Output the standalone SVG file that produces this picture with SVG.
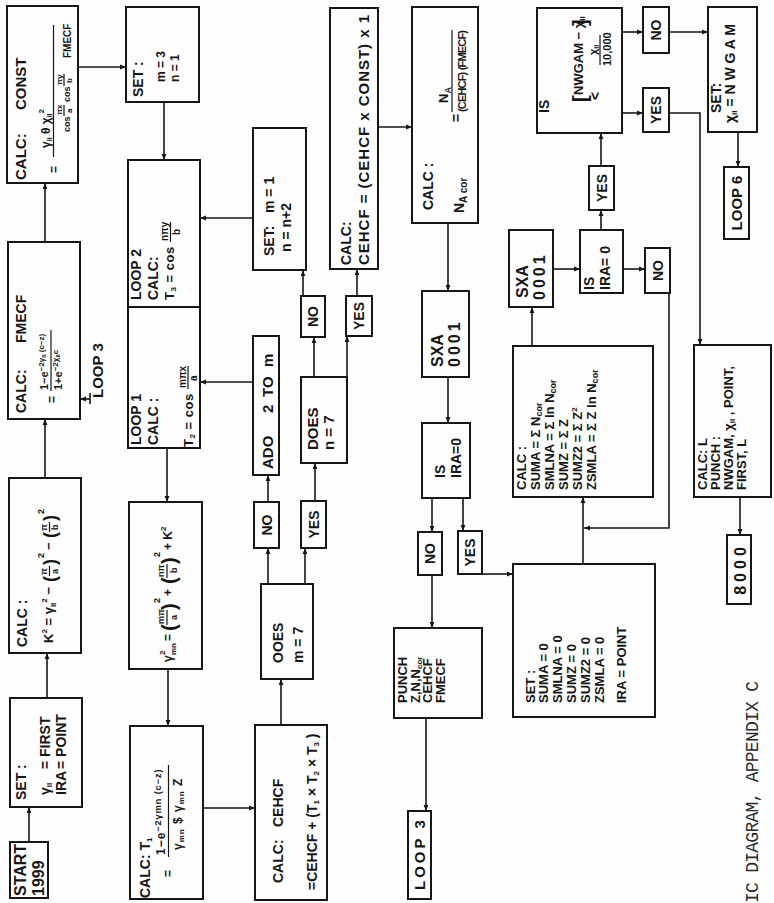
<svg xmlns="http://www.w3.org/2000/svg" width="774" height="903" viewBox="0 0 774 903">
<style>
.bx{fill:none;stroke:#161616;stroke-width:2}
.ln{fill:none;stroke:#161616;stroke-width:1.6}
.ar{marker-end:url(#ah)}
.fb{fill:none;stroke:#161616;stroke-width:1.2}
.big{font-family:"Liberation Sans",Arial,sans-serif;font-weight:bold;font-size:16px;fill:#161616}
.t{font-family:"Liberation Sans",Arial,sans-serif;font-weight:bold;font-size:14px;fill:#161616}
.u{font-family:"Liberation Sans",Arial,sans-serif;font-weight:bold;font-size:13px;fill:#161616}
.m{font-family:"Liberation Sans",Arial,sans-serif;font-weight:bold;font-size:12px;fill:#161616}
.n{font-family:"Liberation Sans",Arial,sans-serif;font-weight:bold;font-size:9px;fill:#161616}
.c{text-anchor:middle}
.cap{font-family:"Liberation Mono","Courier New",monospace;font-size:18px;fill:#2a2a2a}
</style>
<defs>
<marker id="ah" markerWidth="7" markerHeight="6" refX="6" refY="3" orient="auto" markerUnits="userSpaceOnUse">
<path d="M0,0.6 L6,3 L0,5.4 z" fill="#161616"/>
</marker>
</defs>
<rect width="774" height="903" fill="#fdfdfd"/>
<!-- the sheet is drawn in its own upright frame and turned a quarter turn -->
<g transform="translate(0,903) rotate(-90)">

<g id="connectors">
<path class="ln ar" d="M61,29H96"/>
<path class="ln ar" d="M205,47H250"/>
<path class="ln ar" d="M425,45H484"/>
<path class="ln ar" d="M661,45H720"/>
<path class="ln ar" d="M836,78V126"/>
<path class="ln ar" d="M801,164H743"/>
<path class="ln ar" d="M685,253V200"/>
<path class="ln ar" d="M521,253V200"/>
<path class="ln ar" d="M455,167H401"/>
<path class="ln ar" d="M234,168H177"/>
<path class="ln ar" d="M95,203V255"/>
<path class="ln ar" d="M178,281H224"/>
<path class="ln ar" d="M319,268H355"/>
<path class="ln ar" d="M401,268H428"/>
<path class="ln ar" d="M319,305H355"/>
<path class="ln ar" d="M402,315H440"/>
<path class="ln ar" d="M526,314H566"/>
<path class="ln ar" d="M526,347H567"/>
<path class="ln ar" d="M607,303H633"/>
<path class="ln ar" d="M607,357H634"/>
<path class="ln ar" d="M776,378V412"/>
<path class="ln ar" d="M680,448H612"/>
<path class="ln ar" d="M526,448H480"/>
<path class="ln ar" d="M405,432H371"/>
<path class="ln ar" d="M405,463H372"/>
<path class="ln ar" d="M328,432H275"/>
<path class="ln ar" d="M185,426H92"/>
<path class="ln ar" d="M329,482V513"/>
<path class="ln ar" d="M339,583H406"/>
<path class="ln ar" d="M610,669H375V584"/>
<path class="ln ar" d="M557,532H596"/>
<path class="ln ar" d="M634,553V580"/>
<path class="ln ar" d="M634,623V645"/>
<path class="ln ar" d="M673,601H693"/>
<path class="ln ar" d="M737,601H770"/>
<path class="ln ar" d="M871,622V643"/>
<path class="ln ar" d="M871,669V708"/>
<path class="ln ar" d="M771,738H736"/>
<path class="ln ar" d="M790,622V643"/>
<path class="ln ar" d="M790,669V700H558"/>
<path class="ln ar" d="M406,740H368"/>
<path class="ln ar" d="M504,90V80"/>
<path class="ln" d="M499,90H510"/>
</g>

<g id="start">
<rect class="bx" x="5" y="10" width="56" height="38"/>
<text class="big" x="7" y="26">START</text>
<text class="big" x="7" y="44">1999</text>
</g>

<g id="set-first">
<rect class="bx" x="96" y="10" width="109" height="72"/>
<text class="t" x="103" y="26">SET :</text>
<text class="t" x="108" y="50">γ<tspan dy="2" style="font-size:8px">II</tspan></text>
<text class="t" x="134" y="50">= FIRST</text>
<text class="t" x="108" y="66">IRA</text>
<text class="t" x="134" y="66">= POINT</text>
</g>

<g id="calc-k">
<rect class="bx" x="250" y="9" width="175" height="72"/>
<text class="t" x="256" y="27">CALC :</text>
<text class="m" x="260" y="53" style="font-size:13px">K<tspan dy="-6" style="font-size:8px">2</tspan><tspan dy="6"> = γ</tspan><tspan dy="3" style="font-size:8px">II</tspan><tspan dy="-9" style="font-size:8px">2</tspan><tspan dy="6"> −</tspan></text>
<text class="t" x="321" y="56" style="font-size:18px">(</text>
<text class="n" x="328" y="47">π</text><path class="fb" d="M327,49.5H337"/><text class="n" x="329" y="58">a</text>
<text class="t" x="338" y="56" style="font-size:18px">)</text><text class="n" x="345" y="44">2</text>
<text class="m" x="353" y="53" style="font-size:13px">−</text>
<text class="t" x="365" y="56" style="font-size:18px">(</text>
<text class="n" x="372" y="47">π</text><path class="fb" d="M371,49.5H381"/><text class="n" x="373" y="58">b</text>
<text class="t" x="382" y="56" style="font-size:18px">)</text><text class="n" x="389" y="44">2</text>
</g>

<g id="calc-fmecf">
<rect class="bx" x="484" y="8" width="177" height="72"/>
<text class="t" x="490" y="26">CALC:</text>
<text class="t" x="560" y="26">FMECF</text>
<text class="m" x="500" y="56">=</text>
<text class="m" x="513" y="48" style="font-size:11px">1−e<tspan dy="-4" style="font-size:8px">−2γ</tspan><tspan dy="2" style="font-size:6px">II</tspan><tspan dy="-2" style="font-size:8px"> (c−z)</tspan></text>
<path class="fb" d="M512,51H573"/>
<text class="m" x="513" y="62" style="font-size:11px">1+e<tspan dy="-4" style="font-size:8px">−2χ</tspan><tspan dy="2" style="font-size:6px">II</tspan><tspan dy="-2" style="font-size:8px">c</tspan></text>
<text class="t" x="505" y="103" style="font-size:15px">LOOP 3</text>
</g>

<g id="calc-const">
<rect class="bx" x="720" y="7" width="177" height="71"/>
<text class="big" x="723" y="26" style="font-size:15px">CALC:</text>
<text class="big" x="793" y="26" style="font-size:15px">CONST</text>
<text class="m" x="730" y="58">=</text>
<text class="m" x="755" y="50">γ<tspan dy="2" style="font-size:7px">II</tspan><tspan dy="-2"> θ χ</tspan><tspan dy="2" style="font-size:7px">II</tspan><tspan dy="-8" style="font-size:8px">2</tspan></text>
<path class="fb" d="M746,53.5H878"/>
<text class="n" x="771" y="70">cos</text>
<text class="n" x="788" y="62" style="font-size:8px">πx</text><path class="fb" d="M787,64H798"/><text class="n" x="790" y="72" style="font-size:8px">a</text>
<text class="n" x="801" y="70">cos</text>
<text class="n" x="818" y="62" style="font-size:8px">πy</text><path class="fb" d="M817,64H829"/><text class="n" x="820" y="72" style="font-size:8px">b</text>
<text class="m" x="845" y="71" style="font-size:10px">FMECF</text>
</g>

<g id="set-m3">
<rect class="bx" x="801" y="126" width="95" height="73"/>
<text class="t" x="806" y="143">SET :</text>
<text class="m" x="821" y="165">m = 3</text>
<text class="m" x="821" y="179">n = 1</text>
</g>

<g id="loop2">
<rect class="bx" x="596" y="128" width="147" height="72"/>
<text class="t" x="603" y="141">LOOP 2</text>
<text class="t" x="603" y="158">CALC:</text>
<text class="m" x="603" y="174" style="font-size:13px;letter-spacing:0.5px">T<tspan dy="2" style="font-size:8px">3</tspan><tspan dy="-2"> = cos</tspan></text>
<text class="n" x="662" y="168" style="font-size:10px">nπy</text><path class="fb" d="M661,170.5H681"/><text class="n" x="668" y="180" style="font-size:10px">b</text>
</g>

<g id="loop1">
<rect class="bx" x="455" y="128" width="141" height="72"/>
<text class="t" x="458" y="141">LOOP 1</text>
<text class="t" x="458" y="158">CALC :</text>
<text class="m" x="456" y="193" style="font-size:13px;letter-spacing:0.5px">T<tspan dy="2" style="font-size:8px">2</tspan><tspan dy="-2"> = cos</tspan></text>
<text class="n" x="515" y="186" style="font-size:10px">mπx</text><path class="fb" d="M514,188H537"/><text class="n" x="522" y="197" style="font-size:10px">a</text>
</g>

<g id="gamma-mn">
<rect class="bx" x="234" y="129" width="167" height="73"/>
<text class="m" x="241" y="172">γ</text><text class="n" x="248" y="165" style="font-size:8px">2</text><text class="n" x="248" y="176" style="font-size:8px">mn</text>
<text class="m" x="262" y="172">=</text>
<text class="t" x="272" y="176" style="font-size:20px">(</text>
<text class="n" x="279" y="164">mπ</text><path class="fb" d="M278,167H293"/><text class="n" x="283" y="177">a</text>
<text class="t" x="293" y="176" style="font-size:20px">)</text><text class="n" x="300" y="160">2</text>
<text class="m" x="307" y="172">+</text>
<text class="t" x="319" y="176" style="font-size:20px">(</text>
<text class="n" x="326" y="164">nπ</text><path class="fb" d="M325,167H339"/><text class="n" x="330" y="177">b</text>
<text class="t" x="339" y="176" style="font-size:20px">)</text><text class="n" x="346" y="160">2</text>
<text class="m" x="353" y="172">+ K<tspan dy="-6" style="font-size:8px">2</tspan></text>
</g>

<g id="calc-t1">
<rect class="bx" x="4" y="130" width="173" height="73"/>
<text class="t" x="5" y="150">CALC: T<tspan dy="2" style="font-size:8px">1</tspan></text>
<text class="m" x="26" y="172">=</text>
<text class="m" x="48" y="165" style="letter-spacing:1px">1−e<tspan dy="-4" style="font-size:9px">−2γmn (c−z)</tspan></text>
<path class="fb" d="M46,168.5H138"/>
<text class="m" x="53" y="182" style="letter-spacing:1px">γ<tspan dy="2" style="font-size:8px">mn</tspan><tspan dy="-2"> $ γ</tspan><tspan dy="2" style="font-size:8px">mn</tspan><tspan dy="-2"> Z</tspan></text>
</g>

<g id="calc-cehcf">
<rect class="bx" x="3" y="255" width="175" height="72"/>
<text class="t" x="20" y="283">CALC:</text>
<text class="t" x="76" y="283">CEHCF</text>
<text class="t" x="13" y="317">=CEHCF + (T<tspan dy="2" style="font-size:8px">1</tspan><tspan dy="-2"> × T</tspan><tspan dy="2" style="font-size:8px">2</tspan><tspan dy="-2"> × T</tspan><tspan dy="2" style="font-size:8px">3</tspan><tspan dy="-2"> )</tspan></text>
</g>

<g id="does-m7">
<rect class="bx" x="224" y="261" width="95" height="52"/>
<text class="t" x="240" y="283">OOES</text>
<text class="t" x="240" y="303">m = 7</text>
</g>
<g id="no-m"><rect class="bx" x="355" y="254" width="46" height="25"/><text class="t c" x="378" y="272">NO</text></g>
<g id="yes-m"><rect class="bx" x="355" y="301" width="47" height="25"/><text class="t c" x="378.5" y="319">YES</text></g>

<g id="add2">
<rect class="bx" x="428" y="253" width="139" height="26"/>
<text class="t" x="434" y="273" style="font-size:15px">ADO</text><text class="t" x="490" y="273" style="font-size:15px">2</text><text class="t" x="506" y="273" style="font-size:15px">TO</text><text class="t" x="536" y="273" style="font-size:15px">m</text>
</g>

<g id="set-m1">
<rect class="bx" x="633" y="253" width="142" height="53"/>
<text class="t" x="647" y="274">SET:</text>
<text class="t" x="690" y="274">m = 1</text>
<text class="t" x="651" y="291">n = n+2</text>
</g>

<g id="does-n7">
<rect class="bx" x="440" y="301" width="86" height="46"/>
<text class="t" x="453" y="318" style="font-size:15px">DOES</text>
<text class="t" x="453" y="334" style="font-size:15px">n = 7</text>
</g>
<g id="no-n"><rect class="bx" x="566" y="301" width="41" height="24"/><text class="t c" x="586.5" y="318">NO</text></g>
<g id="yes-n"><rect class="bx" x="567" y="346" width="40" height="26"/><text class="t c" x="587" y="364">YES</text></g>

<g id="calc-cehcf-const">
<rect class="bx" x="634" y="330" width="261" height="48"/>
<text class="t" x="638" y="351">CALC:</text>
<text class="t" x="638" y="369" style="font-size:15px" textLength="250">CEHCF = (CEHCF x CONST) x 1</text>
</g>

<g id="calc-nacor">
<rect class="bx" x="680" y="412" width="216" height="66"/>
<text class="t" x="693" y="433">CALC :</text>
<text class="t" x="690" y="464">N<tspan dy="3" style="font-size:10px">A cor</tspan></text>
<text class="t" x="781" y="461">=</text>
<text class="t" x="800" y="448" style="font-size:13px">N<tspan dy="3" style="font-size:9px">A</tspan></text>
<path class="fb" d="M791,452H873"/>
<text class="m" x="791" y="466" style="font-size:11px" textLength="82">(CEHCF) (FMECF)</text>
</g>

<g id="sxa-1">
<rect class="bx" x="526" y="422" width="86" height="47"/>
<text class="big" x="536" y="443">SXA</text>
<text class="big" x="536" y="460" style="letter-spacing:3px">0001</text>
</g>

<g id="is-ira-1">
<rect class="bx" x="405" y="422" width="75" height="48"/>
<text class="t" x="425" y="445">IS</text>
<text class="t" x="425" y="461">IRA=0</text>
</g>
<g id="no-ira-1"><rect class="bx" x="328" y="418" width="43" height="24"/><text class="t c" x="349.5" y="435">NO</text></g>
<g id="yes-ira-1"><rect class="bx" x="329" y="458" width="43" height="24"/><text class="t c" x="350.5" y="475">YES</text></g>

<g id="punch">
<rect class="bx" x="185" y="394" width="90" height="88"/>
<text class="u" x="200" y="407">PUNCH</text>
<text class="u" x="200" y="420">Z,N,N<tspan dy="2" style="font-size:8px">cor</tspan></text>
<text class="u" x="200" y="432">CEHCF</text>
<text class="u" x="200" y="445">FMECF</text>
</g>

<g id="loop3">
<rect class="bx" x="4" y="408" width="88" height="23"/>
<text class="t" x="13" y="425" style="font-size:15px;letter-spacing:3px">LOOP 3</text>
</g>

<g id="set-sums">
<rect class="bx" x="186" y="513" width="153" height="142"/>
<text class="u" x="200" y="535">SET :</text>
<text class="u" x="200" y="548">SUMA = 0</text>
<text class="u" x="200" y="562">SMLNA = 0</text>
<text class="u" x="200" y="576">SUMZ = 0</text>
<text class="u" x="200" y="590">SUMZ2 = 0</text>
<text class="u" x="200" y="604">ZSMLA = 0</text>
<text class="u" x="200" y="626">IRA = POINT</text>
</g>

<g id="calc-sums">
<rect class="bx" x="406" y="513" width="151" height="140"/>
<text class="u" x="413" y="526">CALC :</text>
<text class="u" x="413" y="540">SUMA = Σ N<tspan dy="2" style="font-size:9px">cor</tspan></text>
<text class="u" x="413" y="554">SMLNA = Σ ln N<tspan dy="2" style="font-size:9px">cor</tspan></text>
<text class="u" x="413" y="568">SUMZ = Σ Z</text>
<text class="u" x="413" y="582">SUMZ2 = Σ Z<tspan dy="-5" style="font-size:8px">2</tspan></text>
<text class="u" x="413" y="596">ZSMLA = Σ Z ln N<tspan dy="2" style="font-size:9px">cor</tspan></text>
</g>

<g id="sxa-2">
<rect class="bx" x="596" y="509" width="77" height="44"/>
<text class="big" x="605" y="528">SXA</text>
<text class="big" x="603" y="545" style="letter-spacing:3px">0001</text>
</g>

<g id="is-ira-2">
<rect class="bx" x="610" y="580" width="63" height="43"/>
<text class="t" x="613" y="594">IS</text>
<text class="t" x="613" y="610">IRA= 0</text>
</g>
<g id="no-ira-2"><rect class="bx" x="610" y="645" width="45" height="25"/><text class="t c" x="632.5" y="663">NO</text></g>
<g id="yes-ira-2"><rect class="bx" x="693" y="589" width="44" height="25"/><text class="t c" x="715" y="607">YES</text></g>

<g id="is-nwgam">
<rect class="bx" x="770" y="537" width="125" height="85"/>
<text class="t" x="790" y="549">IS</text>
<text class="t" x="801" y="587" style="font-size:20px">[</text>
<text class="t" x="808" y="583" style="font-size:13px">NWGAM − χ<tspan dy="2" style="font-size:8px">II</tspan></text>
<text class="t" x="877" y="587" style="font-size:20px">]</text>
<text class="t" x="803" y="600">&lt;</text>
<text class="m" x="848" y="597" style="font-size:11px">χ<tspan dy="2" style="font-size:7px">II</tspan></text>
<path class="fb" d="M838,600H868"/>
<text class="m" x="837" y="611" style="font-size:11px">10,000</text>
</g>
<g id="no-nwgam"><rect class="bx" x="850" y="643" width="46" height="26"/><text class="t c" x="873" y="661">NO</text></g>
<g id="yes-nwgam"><rect class="bx" x="771" y="643" width="44" height="26"/><text class="t c" x="793" y="661">YES</text></g>

<g id="set-nwgam">
<rect class="bx" x="771" y="708" width="125" height="49"/>
<text class="t" x="790" y="721">SET:</text>
<text class="t" x="780" y="735">χ<tspan dy="2" style="font-size:8px">II</tspan><tspan dy="-2"> = N W G A M</tspan></text>
</g>

<g id="loop6">
<rect class="bx" x="664" y="724" width="72" height="25"/>
<text class="t c" x="700" y="742" style="font-size:15px">LOOP 6</text>
</g>

<g id="calc-l">
<rect class="bx" x="406" y="694" width="152" height="77"/>
<text class="u" x="413" y="707">CALC: L</text>
<text class="u" x="413" y="720">PUNCH :</text>
<text class="u" x="413" y="733">NWGAM, χ<tspan dy="2" style="font-size:8px">II</tspan><tspan dy="-2"> , POINT,</tspan></text>
<text class="u" x="413" y="746">FIRST, L</text>
</g>

<g id="end-8000">
<rect class="bx" x="299" y="727" width="69" height="24"/>
<text class="big c" x="334" y="746" style="letter-spacing:4px">8000</text>
</g>

<text class="cap" x="0" y="758" textLength="222">IC DIAGRAM, APPENDIX C</text>
</g>
</svg>
